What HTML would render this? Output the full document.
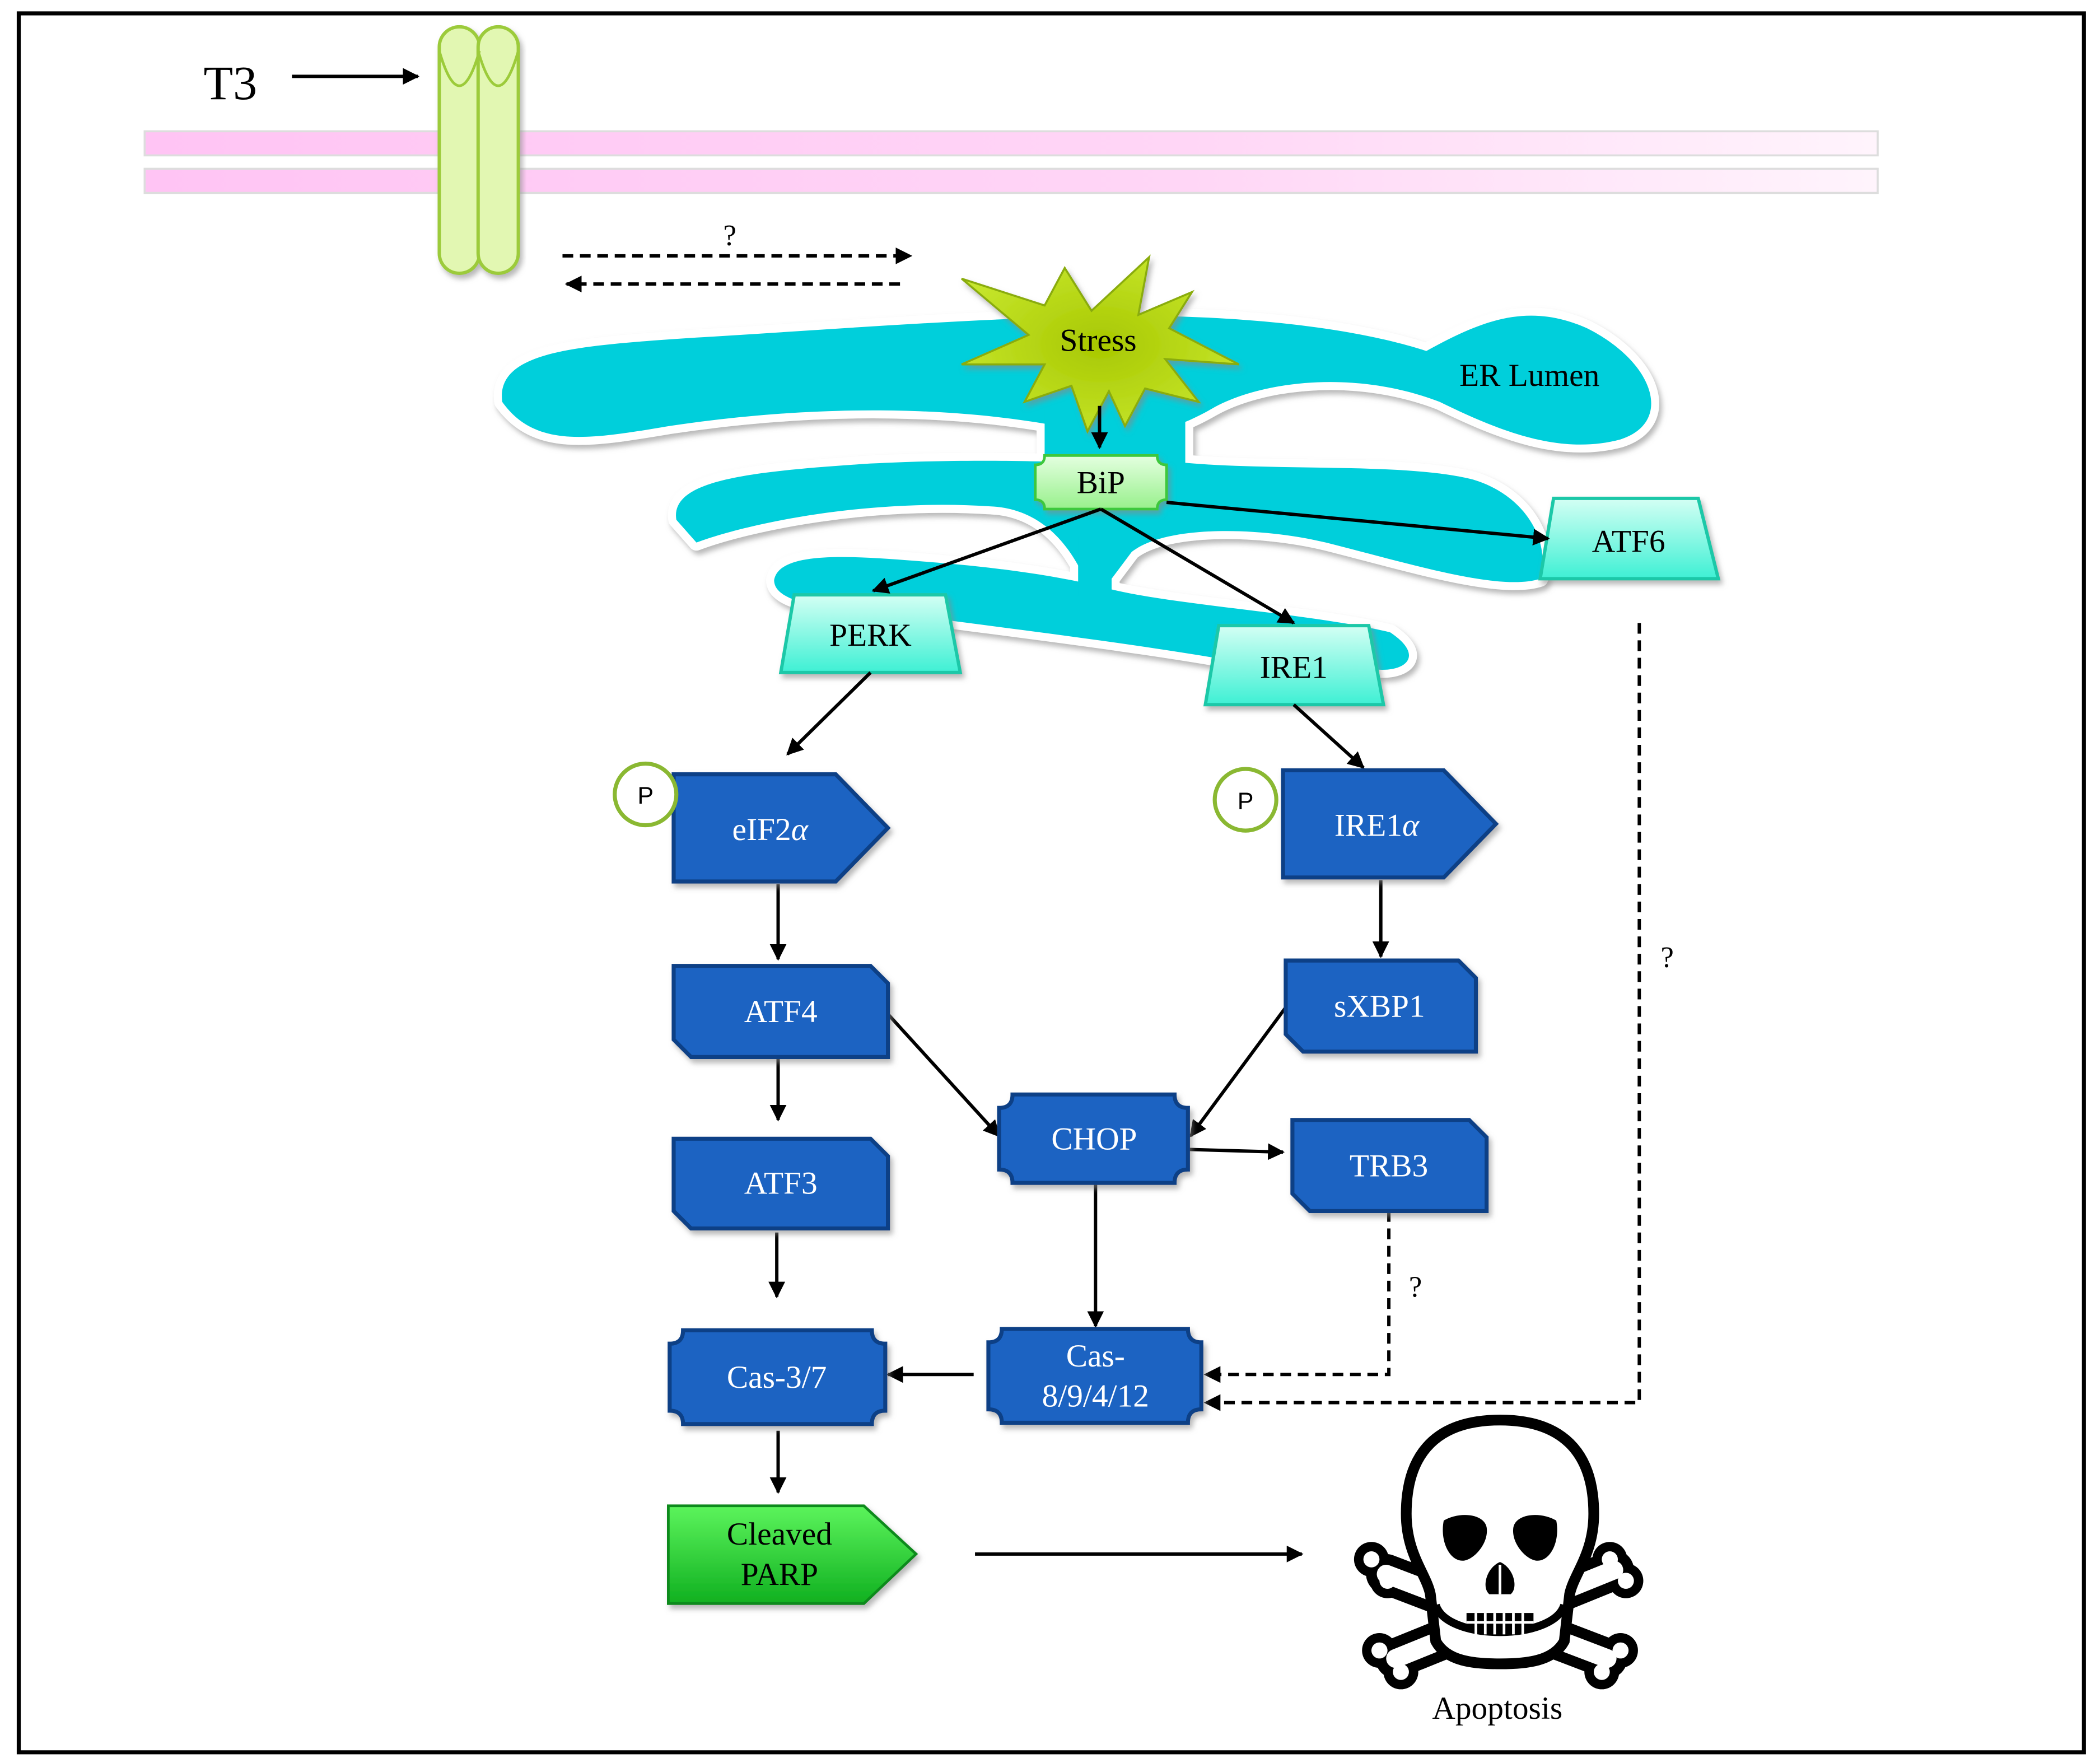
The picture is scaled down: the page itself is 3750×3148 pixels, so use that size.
<!DOCTYPE html>
<html><head><meta charset="utf-8"><style>
html,body{margin:0;padding:0;background:#fff;}
svg{display:block;}
text{font-family:"Liberation Serif",serif;}
</style></head><body>
<svg width="3750" height="3148" viewBox="0 0 1568 1316" preserveAspectRatio="none" xmlns="http://www.w3.org/2000/svg">
<defs>
<marker id="ah" viewBox="0 0 10 10" refX="9" refY="5" markerWidth="5" markerHeight="5" orient="auto"><path d="M0,0 L10,5 L0,10 Z" fill="#000"/></marker>
<linearGradient id="pink" x1="0" x2="1" y1="0" y2="0"><stop offset="0" stop-color="#ffc4f4"/><stop offset="0.6" stop-color="#ffd6f6"/><stop offset="1" stop-color="#fff4fc"/></linearGradient>
<linearGradient id="teal" x1="0" x2="0" y1="0" y2="1"><stop offset="0" stop-color="#d4fff4"/><stop offset="1" stop-color="#3ef0d4"/></linearGradient>
<linearGradient id="bip" x1="0" x2="0" y1="0" y2="1"><stop offset="0" stop-color="#e4ffe0"/><stop offset="1" stop-color="#98f08c"/></linearGradient>
<linearGradient id="parp" x1="0" x2="0" y1="0" y2="1"><stop offset="0" stop-color="#5cf45c"/><stop offset="1" stop-color="#10b020"/></linearGradient>
<radialGradient id="star" cx="0.5" cy="0.5" r="0.6"><stop offset="0" stop-color="#a8c800"/><stop offset="1" stop-color="#c8e830"/></radialGradient>
<filter id="sh" x="-10%" y="-10%" width="120%" height="130%"><feDropShadow dx="2" dy="3" stdDeviation="2" flood-color="#888" flood-opacity="0.6"/></filter>
</defs>
<rect x="14" y="10" width="1542" height="1298" fill="none" stroke="#000" stroke-width="3"/>

<!-- membrane -->
<rect x="108" y="98" width="1294" height="18" fill="url(#pink)" stroke="#ddd" stroke-width="1.5"/>
<rect x="108" y="126" width="1294" height="18" fill="url(#pink)" stroke="#ddd" stroke-width="1.5"/>
<!-- receptor -->
<g fill="#e2f7b2" stroke="#9ccb3a" stroke-width="2.5" filter="url(#sh)">
<rect x="328" y="20" width="30" height="184" rx="15"/>
<rect x="357" y="20" width="30" height="184" rx="15"/>
</g>
<path d="M328,38 Q343,90 358,38 M357,38 Q372,90 387,38" fill="none" stroke="#9ccb3a" stroke-width="2"/>
<text x="152" y="74" font-size="36">T3</text>
<line x1="218" y1="57" x2="312" y2="57" stroke="#000" stroke-width="2.5" marker-end="url(#ah)"/>

<line x1="420" y1="191" x2="680" y2="191" stroke="#000" stroke-width="2.5" stroke-dasharray="8,5" marker-end="url(#ah)"/>
<line x1="672" y1="212" x2="423" y2="212" stroke="#000" stroke-width="2.5" stroke-dasharray="8,5" marker-end="url(#ah)"/>
<text x="540" y="183" font-size="22">?</text>

<!-- ER -->
<g id="er">
<g stroke="#fff" stroke-width="12" fill="#fff" filter="url(#sh)" stroke-linejoin="round">
<path d="M375,300 C370,262 430,258 520,252 C620,246 720,238 820,236 C920,234 1010,244 1065,262 C1105,240 1140,225 1185,245 C1235,270 1250,315 1210,328 C1165,340 1120,322 1075,300 C1010,275 940,285 905,305 C870,325 840,330 790,318 C720,305 620,300 500,318 C440,328 400,335 375,300 Z"/>
<path d="M780,300 L885,300 L885,350 L780,350 Z"/>
<path d="M505,388 C500,358 560,352 650,346 C730,342 780,345 810,345 L880,345 C950,352 1050,345 1100,358 C1140,370 1158,405 1150,432 C1120,442 1050,420 990,405 C940,393 870,392 845,412 L830,432 L810,432 C800,410 780,380 740,378 C650,372 560,390 520,405 Z"/>
<path d="M578,433 C582,410 640,415 700,420 C760,425 800,432 830,440 C880,452 980,458 1038,472 C1062,488 1052,500 1032,500 L935,496 C860,482 760,470 700,462 C640,455 578,455 578,433 Z"/>
<path d="M805,400 L830,400 L830,445 L805,445 Z"/>
</g>
<g fill="#00cfdb">
<path d="M375,300 C370,262 430,258 520,252 C620,246 720,238 820,236 C920,234 1010,244 1065,262 C1105,240 1140,225 1185,245 C1235,270 1250,315 1210,328 C1165,340 1120,322 1075,300 C1010,275 940,285 905,305 C870,325 840,330 790,318 C720,305 620,300 500,318 C440,328 400,335 375,300 Z"/>
<path d="M780,300 L885,300 L885,350 L780,350 Z"/>
<path d="M505,388 C500,358 560,352 650,346 C730,342 780,345 810,345 L880,345 C950,352 1050,345 1100,358 C1140,370 1158,405 1150,432 C1120,442 1050,420 990,405 C940,393 870,392 845,412 L830,432 L810,432 C800,410 780,380 740,378 C650,372 560,390 520,405 Z"/>
<path d="M578,433 C582,410 640,415 700,420 C760,425 800,432 830,440 C880,452 980,458 1038,472 C1062,488 1052,500 1032,500 L935,496 C860,482 760,470 700,462 C640,455 578,455 578,433 Z"/>
<path d="M805,400 L830,400 L830,445 L805,445 Z"/>
</g>
</g>
<text x="1142" y="288" font-size="24" text-anchor="middle">ER Lumen</text>

<!-- Stress star -->
<polygon filter="url(#sh)" fill="url(#star)" stroke="#8aac10" stroke-width="1.5" points="858,192 850,235 890,218 873,245 925,272 870,268 895,300 855,290 840,318 828,292 812,322 800,288 765,300 780,272 718,272 768,250 718,208 780,228 795,200 815,232"/>
<text x="820" y="262" font-size="24" text-anchor="middle">Stress</text>
<line x1="821" y1="303" x2="821" y2="334" stroke="#000" stroke-width="2.5" marker-end="url(#ah)"/>

<!-- BiP -->
<path d="M780,340 L864,340 Q864,347 871,347 L871,373 Q864,373 864,380 L780,380 Q780,373 773,373 L773,347 Q780,347 780,340 Z" fill="url(#bip)" stroke="#3cc83c" stroke-width="2" filter="url(#sh)"/>
<text x="822" y="368" font-size="24" text-anchor="middle">BiP</text>

<!-- trapezoids -->
<g fill="url(#teal)" stroke="#1cc8a8" stroke-width="2.5" filter="url(#sh)">
<polygon points="1160,372 1268,372 1283,432 1150,432"/>
<polygon points="593,444 706,444 717,502 583,502"/>
<polygon points="910,467 1022,467 1033,526 900,526"/>
</g>
<text x="1216" y="412" font-size="24" text-anchor="middle">ATF6</text>
<text x="650" y="482" font-size="24" text-anchor="middle">PERK</text>
<text x="966" y="506" font-size="24" text-anchor="middle">IRE1</text>

<g stroke="#000" stroke-width="2.5" marker-end="url(#ah)">
<line x1="822" y1="380" x2="652" y2="441"/>
<line x1="822" y1="380" x2="966" y2="465"/>
<line x1="871" y1="375" x2="1156" y2="402"/>
<line x1="650" y1="502" x2="588" y2="563"/>
<line x1="966" y1="526" x2="1018" y2="573"/>
<line x1="581" y1="660" x2="581" y2="716"/>
<line x1="1031" y1="657" x2="1031" y2="714"/>
<line x1="581" y1="790" x2="581" y2="836"/>
<line x1="663" y1="757" x2="746" y2="848"/>
<line x1="960" y1="752" x2="889" y2="848"/>
<line x1="887" y1="858" x2="958" y2="860"/>
<line x1="818" y1="883" x2="818" y2="990"/>
<line x1="580" y1="920" x2="580" y2="968"/>
<line x1="727" y1="1026" x2="663" y2="1026"/>
<line x1="581" y1="1068" x2="581" y2="1114"/>
<line x1="728" y1="1160" x2="972" y2="1160"/>
</g>
<g stroke="#000" stroke-width="2.5" fill="none" stroke-dasharray="8,5">
<polyline points="1037,904 1037,1026 900,1026" marker-end="url(#ah)"/>
<polyline points="1224,465 1224,1047 900,1047" marker-end="url(#ah)"/>
</g>
<text x="1052" y="968" font-size="22">?</text>
<text x="1240" y="722" font-size="22">?</text>

<!-- blue nodes -->
<g fill="#1b64c2" stroke="#0c3f86" stroke-width="3" filter="url(#sh)">
<path d="M503,578 L624,578 L663,618 L624,658 L503,658 Z"/>
<path d="M958,575 L1078,575 L1117,615 L1078,655 L958,655 Z"/>
<path d="M503,721 L650,721 L663,734 L663,789 L516,789 L503,776 Z"/>
<path d="M503,850 L650,850 L663,863 L663,917 L516,917 L503,904 Z"/>
<path d="M960,717 L1089,717 L1102,730 L1102,785 L973,785 L960,772 Z"/>
<path d="M965,836 L1097,836 L1110,849 L1110,904 L978,904 L965,891 Z"/>
<path d="M756,817 L877,817 Q877,827 887,827 L887,873 Q877,873 877,883 L756,883 Q756,873 746,873 L746,827 Q756,827 756,817 Z"/>
<path d="M510,993 L651,993 Q651,1003 661,1003 L661,1053 Q651,1053 651,1063 L510,1063 Q510,1053 500,1053 L500,1003 Q510,1003 510,993 Z"/>
<path d="M748,992 L887,992 Q887,1002 897,1002 L897,1052 Q887,1052 887,1062 L748,1062 Q748,1052 738,1052 L738,1002 Q748,1002 748,992 Z"/>
</g>
<path d="M499,1124 L645,1124 L684,1160 L645,1197 L499,1197 Z" fill="url(#parp)" stroke="#0a8a1a" stroke-width="2" filter="url(#sh)"/>
<g fill="#fff" font-size="24" text-anchor="middle">
<text x="575" y="627">eIF2<tspan font-style="italic">α</tspan></text>
<text x="1028" y="624">IRE1<tspan font-style="italic">α</tspan></text>
<text x="583" y="763">ATF4</text>
<text x="583" y="891">ATF3</text>
<text x="1030" y="759">sXBP1</text>
<text x="1037" y="878">TRB3</text>
<text x="817" y="858">CHOP</text>
<text x="580" y="1036">Cas-3/7</text>
<text x="818" y="1020">Cas-</text>
<text x="818" y="1050">8/9/4/12</text>
</g>
<g fill="#000" font-size="24" text-anchor="middle">
<text x="582" y="1153">Cleaved</text>
<text x="582" y="1183">PARP</text>
</g>
<circle cx="482" cy="593" r="23" fill="#fff" stroke="#8ab832" stroke-width="3"/>
<circle cx="930" cy="597" r="23" fill="#fff" stroke="#8ab832" stroke-width="3"/>
<text x="482" y="600" font-size="18" text-anchor="middle" font-family="Liberation Sans,sans-serif" style="font-family:'Liberation Sans',sans-serif">P</text>
<text x="930" y="604" font-size="18" text-anchor="middle" style="font-family:'Liberation Sans',sans-serif">P</text>

<!-- skull and crossbones -->
<g stroke-linecap="round">
<g stroke="#000" stroke-width="30">
<line x1="1035" y1="1175" x2="1200" y2="1238"/>
<line x1="1205" y1="1172" x2="1042" y2="1238"/>
</g>
<g fill="#000">
<circle cx="1024" cy="1164" r="13"/><circle cx="1036" cy="1180" r="13"/>
<circle cx="1214" cy="1180" r="13"/><circle cx="1202" cy="1164" r="13"/>
<circle cx="1030" cy="1232" r="13"/><circle cx="1046" cy="1248" r="13"/>
<circle cx="1210" cy="1232" r="13"/><circle cx="1196" cy="1248" r="13"/>
</g>
<g stroke="#fff" stroke-width="14">
<line x1="1035" y1="1175" x2="1200" y2="1238"/>
<line x1="1205" y1="1172" x2="1042" y2="1238"/>
</g>
<g fill="#fff">
<circle cx="1024" cy="1164" r="6"/><circle cx="1036" cy="1180" r="6"/>
<circle cx="1214" cy="1180" r="6"/><circle cx="1202" cy="1164" r="6"/>
<circle cx="1030" cy="1232" r="6"/><circle cx="1046" cy="1248" r="6"/>
<circle cx="1210" cy="1232" r="6"/><circle cx="1196" cy="1248" r="6"/>
</g>
</g>
<path d="M1120,1060 C1060,1060 1050,1100 1050,1130 C1050,1160 1065,1175 1068,1190 L1072,1225 C1080,1240 1100,1242 1120,1242 C1140,1242 1160,1240 1168,1225 L1172,1190 C1175,1175 1190,1160 1190,1130 C1190,1100 1180,1060 1120,1060 Z" fill="#fff" stroke="#000" stroke-width="8"/>
<path d="M1072,1198 C1080,1225 1160,1225 1168,1198" fill="none" stroke="#000" stroke-width="6"/>
<path d="M1095,1204 L1145,1204 L1145,1216 C1130,1222 1110,1222 1095,1216 Z" fill="#000"/>
<g stroke="#fff" stroke-width="2"><line x1="1102" y1="1204" x2="1102" y2="1220"/><line x1="1109" y1="1204" x2="1109" y2="1220"/><line x1="1116" y1="1204" x2="1116" y2="1220"/><line x1="1123" y1="1204" x2="1123" y2="1220"/><line x1="1130" y1="1204" x2="1130" y2="1220"/><line x1="1137" y1="1204" x2="1137" y2="1220"/><line x1="1095" y1="1211" x2="1145" y2="1211"/></g>
<path d="M1078,1135 C1090,1128 1108,1130 1110,1140 C1112,1152 1100,1165 1092,1165 C1082,1165 1075,1150 1078,1135 Z" fill="#000"/>
<path d="M1162,1135 C1150,1128 1132,1130 1130,1140 C1128,1152 1140,1165 1148,1165 C1158,1165 1165,1150 1162,1135 Z" fill="#000"/>
<path d="M1120,1166 C1110,1170 1106,1185 1112,1190 L1128,1190 C1134,1185 1130,1170 1120,1166 Z" fill="#000"/>
<line x1="1120" y1="1168" x2="1120" y2="1190" stroke="#fff" stroke-width="2"/>
<text x="1118" y="1283" font-size="24" text-anchor="middle">Apoptosis</text>
</svg>
</body></html>
